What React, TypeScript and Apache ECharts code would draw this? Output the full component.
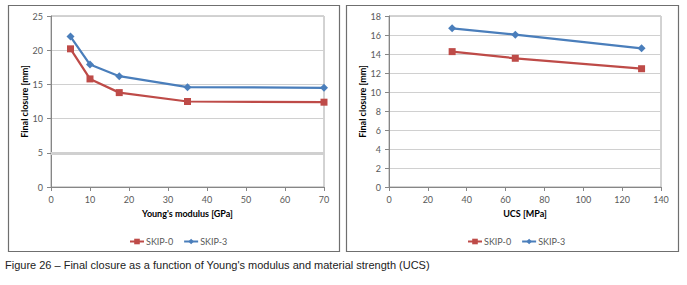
import React, { useEffect, useRef } from "react";
import * as echarts from "echarts";

const youngsModulus = [5, 10, 17.5, 35, 70];
const youngSkip0 = [20.2, 15.8, 13.8, 12.5, 12.4];
const youngSkip3 = [22.0, 17.9, 16.2, 14.6, 14.5];

const ucs = [32.5, 65, 130];
const ucsSkip0 = [14.25, 13.55, 12.45];
const ucsSkip3 = [16.7, 16.03, 14.6];

const seriesNames = ["SKIP-0", "SKIP-3"];
const leftXTitle = "Young's modulus [GPa]";
const rightXTitle = "UCS [MPa]";
const yTitle = "Final closure [mm]";
const caption =
  "Figure 26 \u2013 Final closure as a function of Young's modulus and material strength (UCS)";

const RED = "#BE4B48";
const BLUE = "#4A7EBB";
const FONT = "Lato, 'Open Sans', sans-serif";

const pairs = (xs: number[], ys: number[]) => xs.map((x, i) => [x, ys[i]]);

export default function App() {
  const ref = useRef<HTMLDivElement>(null);
  useEffect(() => {
    if (!ref.current) return;
    const chart = echarts.init(ref.current, undefined, { renderer: "svg" });
    const axisLabel = { color: "#595959", fontSize: 9, fontFamily: FONT };
    const nameStyle = { color: "#000", fontSize: 9, fontWeight: "bold" as const, fontFamily: FONT };
    const axisLine = { show: true, lineStyle: { color: "#868686", width: 1 } };
    const axisTick = { show: true, length: 4, lineStyle: { color: "#868686" } };
    const splitLine = { show: true, lineStyle: { color: "#d0d0d0", width: 1 } };
    const mkX = (gridIndex: number, max: number, interval: number, name: string) => ({
      type: "value",
      gridIndex,
      min: 0,
      max,
      interval,
      name,
      nameLocation: "middle",
      nameGap: 21,
      nameTextStyle: nameStyle,
      axisLabel: { ...axisLabel, margin: 8 },
      axisLine,
      axisTick,
      splitLine: { show: false },
    });
    const mkY = (gridIndex: number, max: number, interval: number, gap: number) => ({
      type: "value",
      gridIndex,
      min: 0,
      max,
      interval,
      name: yTitle,
      nameLocation: "middle",
      nameGap: gap,
      nameTextStyle: nameStyle,
      axisLabel: { ...axisLabel, margin: 8 },
      axisLine,
      axisTick,
      splitLine,
    });
    const lineSeries = (
      name: string,
      idx: number,
      data: number[][],
      color: string,
      symbol: string,
      size: number,
      extra: any = {}
    ) => ({
      type: "line",
      name,
      xAxisIndex: idx,
      yAxisIndex: idx,
      data,
      color,
      symbol,
      symbolSize: size,
      showSymbol: true,
      lineStyle: { color, width: 2.25 },
      itemStyle: { color },
      ...extra,
    });
    const legendCommon = {
      data: seriesNames,
      itemWidth: 14,
      itemHeight: 7,
      itemGap: 10,
      textStyle: { color: "#595959", fontSize: 9, fontFamily: FONT, padding: [0, 0, 0, -3] },
      selectedMode: false,
    };
    chart.setOption({
      animation: false,
      backgroundColor: "#fff",
      grid: [
        { left: 51, top: 16, width: 273, height: 171, show: true, borderColor: "#a6a6a6", borderWidth: 1 },
        { left: 389, top: 16, width: 272, height: 171, show: true, borderColor: "#a6a6a6", borderWidth: 1 },
      ],
      xAxis: [mkX(0, 70, 10, leftXTitle), mkX(1, 140, 20, rightXTitle)],
      yAxis: [mkY(0, 25, 5, 21), mkY(1, 18, 2, 19)],
      legend: [
        { ...legendCommon, left: 124, top: 232 },
        { ...legendCommon, left: 462, top: 232 },
      ],
      series: [
        lineSeries("SKIP-0", 0, pairs(youngsModulus, youngSkip0), RED, "rect", 7, {
          markLine: {
            silent: true,
            symbol: "none",
            label: { show: false },
            lineStyle: { color: "#d0d0d0", width: 3, type: "solid" },
            data: [{ yAxis: 5 }],
          },
        }),
        lineSeries("SKIP-3", 0, pairs(youngsModulus, youngSkip3), BLUE, "diamond", 8),
        lineSeries("SKIP-0", 1, pairs(ucs, ucsSkip0), RED, "rect", 7),
        lineSeries("SKIP-3", 1, pairs(ucs, ucsSkip3), BLUE, "diamond", 8),
      ],
      graphic: [
        {
          type: "rect",
          shape: { x: 8.5, y: 5.5, width: 331, height: 246 },
          style: { fill: "none", stroke: "#6f6f6f", lineWidth: 1.2 },
          z: 10,
        },
        {
          type: "rect",
          shape: { x: 346.5, y: 5.5, width: 332, height: 246 },
          style: { fill: "none", stroke: "#6f6f6f", lineWidth: 1.2 },
          z: 10,
        },
        {
          type: "text",
          x: 5,
          y: 265,
          style: {
            text: caption,
            fill: "#222",
            fontSize: 11,
            fontFamily: "'Liberation Sans Narrow', 'Arial Narrow', 'Liberation Sans', sans-serif",
            verticalAlign: "middle",
          },
        },
      ],
    });
    return () => chart.dispose();
  }, []);
  return (
    <div
      ref={ref}
      style={{ position: "fixed", left: 0, top: 0, width: 687, height: 285 }}
    />
  );
}
